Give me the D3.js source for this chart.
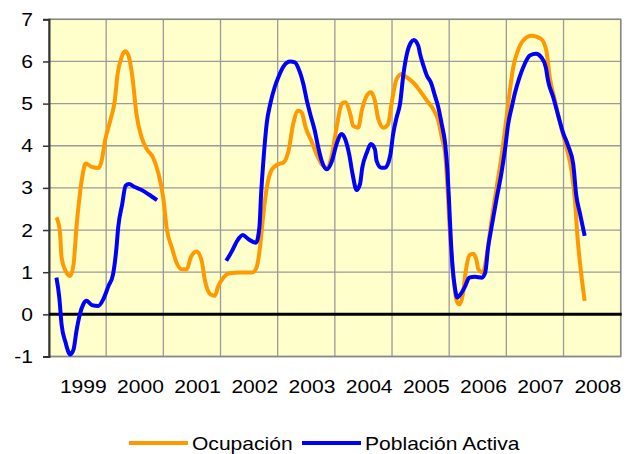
<!DOCTYPE html>
<html>
<head>
<meta charset="utf-8">
<script src="https://cdn.jsdelivr.net/npm/d3@7"></script>
<style>
  body { margin: 0; background: #fff; }
  text { font-family: "Liberation Sans", Arial, sans-serif; fill: #000; }
</style>
</head>
<body>
<div id="chart"></div>
<script>
// year labels on the x axis
var years = [1999, 2000, 2001, 2002, 2003, 2004, 2005, 2006, 2007, 2008];
var yTicks = [-1, 0, 1, 2, 3, 4, 5, 6, 7];

// Ocupación (time in fractional years, value in %)
var ocupT = [1998.53, 1998.59, 1998.62, 1998.69, 1998.77, 1998.83, 1998.88, 1998.94, 1999.00, 1999.04,
  1999.15, 1999.26, 1999.32, 1999.38, 1999.47, 1999.55, 1999.60, 1999.67, 1999.73, 1999.79,
  1999.86, 1999.93, 2000.02, 2000.11, 2000.22, 2000.31, 2000.40, 2000.46, 2000.55, 2000.63,
  2000.72, 2000.81, 2000.88, 2000.98, 2001.07, 2001.13, 2001.22, 2001.30, 2001.36, 2001.45,
  2001.54, 2001.74, 2001.95, 2002.03, 2002.09, 2002.15, 2002.21, 2002.30, 2002.41, 2002.50,
  2002.59, 2002.67, 2002.76, 2002.82, 2002.89, 2003.00, 2003.08, 2003.17, 2003.26, 2003.35,
  2003.43, 2003.52, 2003.58, 2003.67, 2003.72, 2003.81, 2003.87, 2003.96, 2004.03, 2004.10,
  2004.16, 2004.25, 2004.33, 2004.39, 2004.48, 2004.57, 2004.66, 2004.77, 2004.89, 2005.01,
  2005.12, 2005.21, 2005.27, 2005.33, 2005.37, 2005.40, 2005.43, 2005.47, 2005.53, 2005.58,
  2005.64, 2005.69, 2005.76, 2005.82, 2005.88, 2005.91, 2005.99, 2006.06, 2006.14, 2006.23,
  2006.32, 2006.41, 2006.47, 2006.52, 2006.60, 2006.69, 2006.84, 2007.01, 2007.10, 2007.16,
  2007.25, 2007.36, 2007.45, 2007.54, 2007.60, 2007.65, 2007.71, 2007.77];
var ocupacion = [2.30, 1.98, 1.35, 1.03, 0.91, 1.19, 2.06, 2.85, 3.40, 3.58,
  3.50, 3.47, 3.64, 4.12, 4.59, 5.07, 5.70, 6.10, 6.24, 6.14,
  5.62, 4.75, 4.20, 3.92, 3.72, 3.36, 2.75, 2.03, 1.58, 1.23,
  1.07, 1.07, 1.35, 1.49, 1.27, 0.79, 0.48, 0.44, 0.67, 0.87,
  0.97, 0.99, 0.99, 1.11, 1.58, 2.38, 3.01, 3.44, 3.56, 3.60,
  3.88, 4.51, 4.83, 4.79, 4.43, 4.08, 3.80, 3.56, 3.48, 3.80,
  4.43, 4.99, 5.03, 4.75, 4.47, 4.43, 4.83, 5.19, 5.27, 5.07,
  4.63, 4.43, 4.51, 4.99, 5.58, 5.70, 5.62, 5.50, 5.30, 5.07,
  4.87, 4.59, 4.20, 3.80, 3.01, 2.22, 1.58, 0.95, 0.32, 0.24,
  0.48, 1.03, 1.41, 1.44, 1.27, 1.07, 0.99, 1.43, 2.22, 3.01,
  3.80, 4.75, 5.40, 5.86, 6.25, 6.49, 6.61, 6.53, 6.25, 5.62,
  5.07, 4.43, 3.96, 3.40, 2.69, 1.74, 0.95, 0.32];

// Población Activa (null = no data)
var activaT = [1998.53, 1998.58, 1998.62, 1998.69, 1998.77, 1998.83, 1998.88, 1998.94, 1999.00, 1999.06,
  1999.15, 1999.26, 1999.35, 1999.44, 1999.52, 1999.58, 1999.61, 1999.68, 1999.74, 1999.80,
  1999.90, 2000.02, 2000.14, 2000.29, 2000.90, 2001.50, 2001.60, 2001.69, 2001.79, 2001.89,
  2002.02, 2002.08, 2002.11, 2002.15, 2002.21, 2002.27, 2002.35, 2002.41, 2002.50, 2002.62,
  2002.70, 2002.79, 2002.85, 2002.91, 2002.97, 2003.05, 2003.11, 2003.17, 2003.26, 2003.35,
  2003.43, 2003.52, 2003.58, 2003.65, 2003.71, 2003.78, 2003.84, 2003.88, 2003.96, 2004.03,
  2004.10, 2004.13, 2004.21, 2004.28, 2004.37, 2004.42, 2004.48, 2004.54, 2004.60, 2004.66,
  2004.73, 2004.78, 2004.86, 2004.89, 2004.95, 2005.01, 2005.08, 2005.15, 2005.21, 2005.27,
  2005.33, 2005.37, 2005.40, 2005.43, 2005.46, 2005.50, 2005.54, 2005.60, 2005.68, 2005.75,
  2005.85, 2005.97, 2006.03, 2006.08, 2006.14, 2006.23, 2006.32, 2006.38, 2006.43, 2006.50,
  2006.55, 2006.63, 2006.72, 2006.81, 2006.92, 2007.01, 2007.09, 2007.13, 2007.22, 2007.30,
  2007.39, 2007.48, 2007.57, 2007.62, 2007.69, 2007.77];
var poblacionActiva = [0.87, 0.40, -0.24, -0.67, -0.95, -0.83, -0.40, 0.00, 0.24, 0.32,
  0.22, 0.20, 0.36, 0.67, 0.95, 1.58, 2.06, 2.61, 3.05, 3.09,
  3.02, 2.95, 2.85, 2.71, null, 1.27, 1.50, 1.74, 1.88, 1.78,
  1.70, 2.06, 2.85, 3.64, 4.55, 4.99, 5.40, 5.62, 5.88, 6.00,
  5.98, 5.74, 5.46, 5.07, 4.75, 4.35, 3.96, 3.64, 3.44, 3.64,
  4.04, 4.28, 4.16, 3.80, 3.33, 2.95, 3.09, 3.48, 3.84, 4.04,
  3.92, 3.64, 3.48, 3.48, 3.78, 4.28, 4.67, 4.99, 5.70, 6.18,
  6.45, 6.51, 6.37, 6.18, 5.90, 5.66, 5.50, 5.19, 4.91, 4.51,
  4.04, 3.40, 2.61, 1.74, 1.11, 0.63, 0.40, 0.48, 0.67, 0.87,
  0.89, 0.87, 0.99, 1.58, 2.06, 2.75, 3.40, 3.95, 4.50, 4.95,
  5.25, 5.62, 5.94, 6.14, 6.18, 6.10, 5.86, 5.54, 5.15, 4.75,
  4.32, 4.00, 3.56, 2.85, 2.38, 1.86];

var width = 631, height = 454;
var plot = { left: 49, right: 620.7, top: 19.3, bottom: 356.5 };
var stretch = 1.17; // text in the picture is wider than the font

var svg = d3.select("#chart")
  .append("svg")
  .attr("width", width)
  .attr("height", height);

var x = d3.scaleLinear()
  .domain([1998.4, 2008.4])
  .range([plot.left, plot.right]);

var y = d3.scaleLinear()
  .domain([-1, 7])
  .range([plot.bottom, plot.top]);

// background of the plot area
svg.append("rect")
  .attr("x", plot.left)
  .attr("y", plot.top)
  .attr("width", plot.right - plot.left)
  .attr("height", plot.bottom - plot.top)
  .attr("fill", "#FFFFCC");

// grid
var gridX = d3.range(0, 11).map(function (k) { return 1998.4 + k; });
svg.append("g").selectAll("line")
  .data(gridX)
  .enter().append("line")
  .attr("x1", function (d) { return x(d); })
  .attr("x2", function (d) { return x(d); })
  .attr("y1", plot.top)
  .attr("y2", plot.bottom)
  .attr("stroke", "#9a9a9a")
  .attr("stroke-width", 1.3);

svg.append("g").selectAll("line")
  .data(yTicks)
  .enter().append("line")
  .attr("x1", plot.left)
  .attr("x2", plot.right)
  .attr("y1", function (d) { return y(d); })
  .attr("y2", function (d) { return y(d); })
  .attr("stroke", "#9a9a9a")
  .attr("stroke-width", 1.3);

// border
svg.append("rect")
  .attr("x", plot.left)
  .attr("y", plot.top)
  .attr("width", plot.right - plot.left)
  .attr("height", plot.bottom - plot.top)
  .attr("fill", "none")
  .attr("stroke", "#888")
  .attr("stroke-width", 1.5);

// y axis
var yAxis = svg.append("g")
  .attr("transform", "translate(" + plot.left + ",0)")
  .call(d3.axisLeft(y).tickValues(yTicks).tickSize(6).tickPadding(0).tickFormat(d3.format("d")));
yAxis.select(".domain").attr("stroke", "#333").attr("stroke-width", 2);
yAxis.selectAll(".tick line").attr("stroke", "#333").attr("stroke-width", 1.5);
yAxis.selectAll(".tick text").remove();

yAxis.selectAll(".tick").append("text")
  .attr("transform", "translate(-16,6) scale(" + stretch + ",1)")
  .attr("text-anchor", "end")
  .style("font-size", "18px")
  .text(function (d) { return d; });

// zero line
svg.append("line")
  .attr("x1", plot.left)
  .attr("x2", plot.right + 1)
  .attr("y1", y(0))
  .attr("y2", y(0))
  .attr("stroke", "#000")
  .attr("stroke-width", 3);

// year labels
svg.append("g").selectAll("text")
  .data(years)
  .enter().append("text")
  .attr("transform", function (d) { return "translate(" + x(d) + ",393) scale(" + stretch + ",1)"; })
  .attr("text-anchor", "middle")
  .style("font-size", "18px")
  .text(function (d) { return d; });

// lines
function series(ts, vs) {
  return ts.map(function (t, i) { return { t: t, v: vs[i] }; });
}

var line = d3.line()
  .defined(function (d) { return d.v !== null; })
  .x(function (d) { return x(d.t); })
  .y(function (d) { return y(d.v); })
  .curve(d3.curveMonotoneX);

svg.append("path")
  .datum(series(ocupT, ocupacion))
  .attr("d", line)
  .attr("fill", "none")
  .attr("stroke", "#FF9900")
  .attr("stroke-width", 4)
  .attr("stroke-linejoin", "round");

svg.append("path")
  .datum(series(activaT, poblacionActiva))
  .attr("d", line)
  .attr("fill", "none")
  .attr("stroke", "#0000FF")
  .attr("stroke-width", 4)
  .attr("stroke-linejoin", "round");

// legend
var legend = [
  { name: "Ocupación", color: "#FF9900", x: 129 },
  { name: "Población Activa", color: "#0000FF", x: 302 }
];
var lg = svg.append("g").selectAll("g")
  .data(legend)
  .enter().append("g")
  .attr("transform", function (d) { return "translate(" + d.x + ",443)"; });
lg.append("line")
  .attr("x1", 0).attr("x2", 59)
  .attr("y1", 0).attr("y2", 0)
  .attr("stroke", function (d) { return d.color; })
  .attr("stroke-width", 4);
lg.append("text")
  .attr("transform", "translate(63,7) scale(" + stretch + ",1)")
  .style("font-size", "18px")
  .text(function (d) { return d.name; });
</script>
</body>
</html>
